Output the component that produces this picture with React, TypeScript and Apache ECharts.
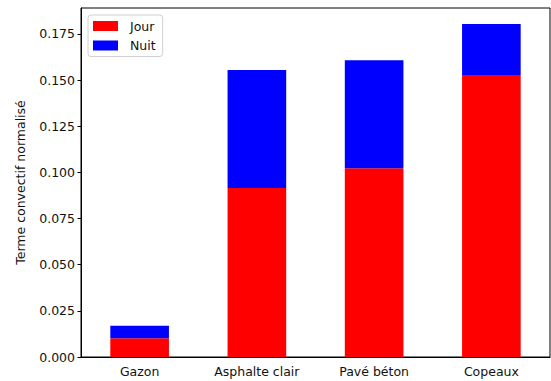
import React, { useEffect, useRef } from "react";
import * as echarts from "echarts";

const categories = ["Gazon", "Asphalte clair", "Pavé béton", "Copeaux"];
const jour = [0.0102, 0.0915, 0.1022, 0.1527];
const nuit = [0.0067, 0.0639, 0.0585, 0.0276];
const yTicks = [0, 0.025, 0.05, 0.075, 0.1, 0.125, 0.15, 0.175];

const FONT = "DejaVu Sans";

export default function App() {
  const ref = useRef<HTMLDivElement>(null);
  useEffect(() => {
    if (!ref.current) return;
    const chart = echarts.init(ref.current, undefined, { renderer: "svg" });
    chart.setOption({
      animation: false,
      backgroundColor: "#fff",
      textStyle: { fontFamily: FONT },
      grid: {
        left: 81,
        right: 1,
        top: 8,
        bottom: 24,
        show: true,
        borderColor: "#000",
        borderWidth: 1,
        backgroundColor: "transparent",
      },
      legend: {
        orient: "vertical",
        left: 88,
        top: 15,
        padding: [4, 7, 4, 5],
        itemWidth: 25,
        itemHeight: 10,
        itemGap: 5.5,
        borderColor: "#d0d0d0",
        borderWidth: 1,
        borderRadius: 3,
        backgroundColor: "rgba(255,255,255,0.8)",
        icon: "rect",
        textStyle: {
          fontFamily: FONT,
          fontSize: 12.5,
          color: "#111",
          lineHeight: 14,
          padding: [0, 0, 0, 7],
        },
        data: ["Jour", "Nuit"],
      },
      xAxis: {
        type: "category",
        data: categories,
        boundaryGap: true,
        axisLine: { lineStyle: { color: "#000", width: 1 } },
        axisTick: {
          alignWithLabel: true,
          length: 3.5,
          lineStyle: { color: "#000" },
        },
        axisLabel: {
          fontFamily: FONT,
          fontSize: 12.5,
          color: "#111",
          margin: 7.5,
        },
        splitLine: { show: false },
      },
      yAxis: {
        type: "value",
        min: 0,
        max: 0.189,
        interval: 0.025,
        name: "Terme convectif normalisé",
        nameLocation: "middle",
        nameGap: 54,
        nameTextStyle: { fontFamily: FONT, fontSize: 12.5, color: "#111" },
        axisLine: { show: true, lineStyle: { color: "#000", width: 1 } },
        axisTick: {
          show: true,
          length: 3.5,
          lineStyle: { color: "#000" },
          customValues: yTicks,
        },
        axisLabel: {
          fontFamily: FONT,
          fontSize: 12.5,
          color: "#111",
          margin: 6,
          customValues: yTicks,
          formatter: (v: number) => v.toFixed(3),
        },
        splitLine: { show: false },
      },
      series: [
        {
          name: "Jour",
          type: "bar",
          stack: "total",
          data: jour,
          barWidth: "50%",
          itemStyle: { color: "#ff0000" },
        },
        {
          name: "Nuit",
          type: "bar",
          stack: "total",
          data: nuit,
          barWidth: "50%",
          itemStyle: { color: "#0000ff" },
        },
      ],
    });
    return () => chart.dispose();
  }, []);
  return (
    <div
      ref={ref}
      style={{ position: "fixed", left: 0, top: 0, width: 551, height: 381 }}
    />
  );
}
